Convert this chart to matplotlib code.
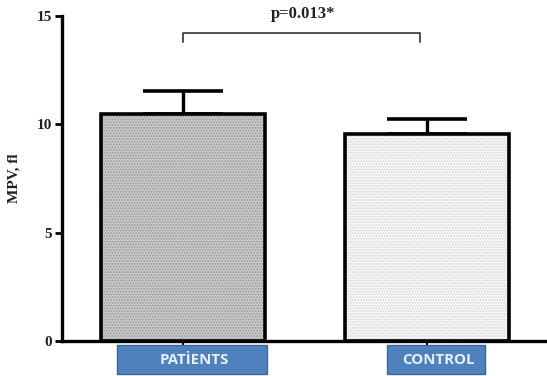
import numpy as np
import matplotlib
matplotlib.use("Agg")
import matplotlib.pyplot as plt
from matplotlib.patches import Rectangle

# values
groups = ["PATİENTS", "CONTROL"]
means = [10.5, 9.55]
sd = [1.05, 0.7]
fills = ["#c9c9c9", "#f7f7f7"]
dots = ["#969696", "#d4d4d4"]
p_text = "p=0.013*"

plt.rcParams["hatch.linewidth"] = 0.8

fig = plt.figure(figsize=(5.47, 3.76), dpi=100)
ax = fig.add_axes([62 / 547, 35 / 376, 485 / 547, 325 / 376])

x = np.arange(len(groups))
w = 0.672

# dotted fill, then black outline on top
for i in range(len(groups)):
    plt.rcParams["hatch.color"] = dots[i]
    ax.bar(x[i], means[i], width=w, color=fills[i], edgecolor=dots[i],
           hatch="......", linewidth=0, zorder=2)
ax.bar(x, means, width=w, fill=False, edgecolor="black", linewidth=2.6, zorder=3)

# upper error bars only
ax.errorbar(x, means, yerr=[np.zeros(len(sd)), sd], fmt="none", ecolor="black",
            elinewidth=2.4, capsize=29, capthick=2.6, zorder=1)

ax.set_xlim(-0.496, 1.49)
ax.set_ylim(0, 15)
ax.set_yticks([0, 5, 10, 15])
ax.set_xticks(x)
ax.set_xticklabels(["", ""])
ax.tick_params(axis="y", direction="out", length=5, width=2, pad=2,
               labelsize=11, labelcolor="#222222")
ax.tick_params(axis="x", direction="out", length=3, width=1.5)
for lab in ax.get_yticklabels():
    lab.set_fontfamily("Liberation Serif")
    lab.set_fontweight("bold")

for s in ["top", "right"]:
    ax.spines[s].set_visible(False)
ax.spines["left"].set_linewidth(2.4)
ax.spines["bottom"].set_linewidth(2.4)

ax.set_ylabel("MPV, fl", fontfamily="Liberation Serif", fontweight="bold",
              fontsize=11, labelpad=12, color="#222222")

# significance bracket
top = 14.2
ax.plot([x[0], x[0], x[1] - 0.03, x[1] - 0.03], [top - 0.38, top, top, top - 0.38],
        color="#222222", lw=1.1, clip_on=False)
ax.text((x[0] + x[1]) / 2 - 0.01, top + 0.5, p_text, ha="center", va="bottom",
        fontfamily="Liberation Serif", fontweight="bold", fontsize=12,
        color="#222222", clip_on=False)

# blue label boxes under the axis
trans = ax.get_xaxis_transform()
offs = [(-0.27, 0.344), (-0.164, 0.238)]
for i, g in enumerate(groups):
    x0 = x[i] + offs[i][0]
    x1 = x[i] + offs[i][1]
    ax.add_patch(Rectangle((x0, -0.1015), x1 - x0, 0.0892, transform=trans,
                           facecolor="#4f81bd", edgecolor="#3a689e", lw=1.0,
                           clip_on=False, zorder=5))
    ax.text((x0 + x1) / 2 + 0.01, -0.057, g, transform=trans, ha="center",
            va="center", color="#e8eef7", fontfamily="Open Sans",
            fontweight="bold", fontsize=10.8, zorder=6, clip_on=False)

fig.savefig("out.png", dpi=100)
